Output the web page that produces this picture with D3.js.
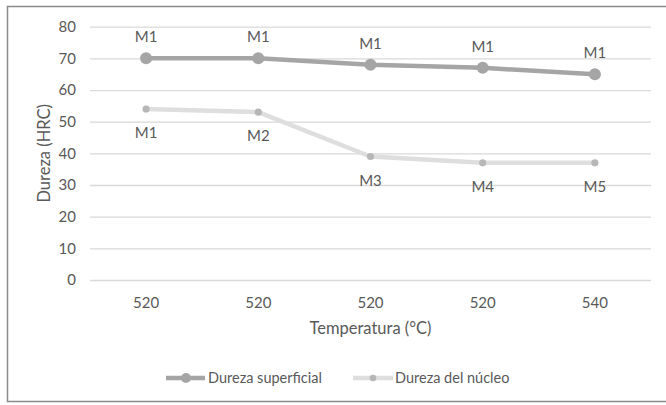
<!DOCTYPE html>
<html><head><meta charset="utf-8">
<script src="https://cdn.jsdelivr.net/npm/d3@7"></script>
<style>body{margin:0;background:#fff}text{font-family:Lato,"Open Sans",sans-serif;fill:#595959}</style>
</head><body><svg id="c" width="666" height="405"></svg>
<script>
const categories = ["520","520","520","520","540"];
const superficial = [70,70,68,67,65];
const nucleo = [54,53,39,37,37];
const superficialLabels = ["M1","M1","M1","M1","M1"];
const nucleoLabels = ["M1","M2","M3","M4","M5"];
const yTicks = [0,10,20,30,40,50,60,70,80];

const svg = d3.select("#c");
svg.append("rect").attr("x",7.5).attr("y",6.5).attr("width",662).attr("height",395)
  .attr("fill","#fff").attr("stroke","#8a8a8a").attr("stroke-width",1.5);

const L=90,R=651,T=26.7,B=280;
const x = d3.scaleBand().domain(d3.range(categories.length)).range([L,R]);
const y = d3.scaleLinear().domain([0,80]).range([B,T]);

const ya = svg.append("g").attr("transform",`translate(${L},0)`)
  .call(d3.axisLeft(y).tickValues(yTicks).tickSize(-(R-L)).tickPadding(14));
ya.select(".domain").remove();
ya.selectAll("line").attr("stroke","#d9d9d9").attr("stroke-width",1.3);
ya.selectAll("text").attr("font-size",15).style("font-family","Lato, sans-serif").attr("fill","#595959");

const xa = svg.append("g").attr("transform",`translate(0,${B})`)
  .call(d3.axisBottom(x).tickFormat(i=>categories[i]).tickSize(0).tickPadding(17));
xa.select(".domain").remove();
xa.selectAll("text").attr("font-size",15).style("font-family","Lato, sans-serif").attr("fill","#595959");

const cx = i => x(i)+x.bandwidth()/2;
const line = d3.line().x((d,i)=>cx(i)).y(d=>y(d));

svg.append("path").datum(nucleo).attr("d",line).attr("fill","none")
  .attr("stroke","#dedede").attr("stroke-width",4.5).attr("stroke-linejoin","round");
svg.append("path").datum(superficial).attr("d",line).attr("fill","none")
  .attr("stroke","#a5a5a5").attr("stroke-width",4.5).attr("stroke-linejoin","round");

svg.selectAll(".m2").data(nucleo).enter().append("circle")
  .attr("cx",(d,i)=>cx(i)).attr("cy",d=>y(d)).attr("r",3.6).attr("fill","#b7b7b7");
svg.selectAll(".m1").data(superficial).enter().append("circle")
  .attr("cx",(d,i)=>cx(i)).attr("cy",d=>y(d)).attr("r",6).attr("fill","#a5a5a5");

svg.selectAll(".l1").data(superficial).enter().append("text")
  .attr("x",(d,i)=>cx(i)).attr("y",d=>y(d)-16).attr("text-anchor","middle")
  .attr("font-size",15).text((d,i)=>superficialLabels[i]);
svg.selectAll(".l2").data(nucleo).enter().append("text")
  .attr("x",(d,i)=>cx(i)).attr("y",d=>y(d)+29).attr("text-anchor","middle")
  .attr("font-size",15).text((d,i)=>nucleoLabels[i]);

svg.append("text").attr("transform",`translate(50,${(T+B)/2}) rotate(-90)`)
  .attr("text-anchor","middle").attr("font-size",16.5).text("Dureza (HRC)");
svg.append("text").attr("x",(L+R)/2).attr("y",334).attr("text-anchor","middle")
  .attr("font-size",16.5).text("Temperatura (°C)");

// legend
const lg = svg.append("g");
lg.append("line").attr("x1",166).attr("x2",205).attr("y1",378).attr("y2",378)
  .attr("stroke","#a5a5a5").attr("stroke-width",4.5);
lg.append("circle").attr("cx",186).attr("cy",378).attr("r",5).attr("fill","#a5a5a5");
lg.append("text").attr("x",208).attr("y",383).attr("font-size",14.5).text("Dureza superficial");
lg.append("line").attr("x1",353).attr("x2",393).attr("y1",378).attr("y2",378)
  .attr("stroke","#dedede").attr("stroke-width",4.5);
lg.append("circle").attr("cx",373).attr("cy",378).attr("r",3.3).attr("fill","#b7b7b7");
lg.append("text").attr("x",395).attr("y",383).attr("font-size",14.5).text("Dureza del núcleo");
</script></body></html>
